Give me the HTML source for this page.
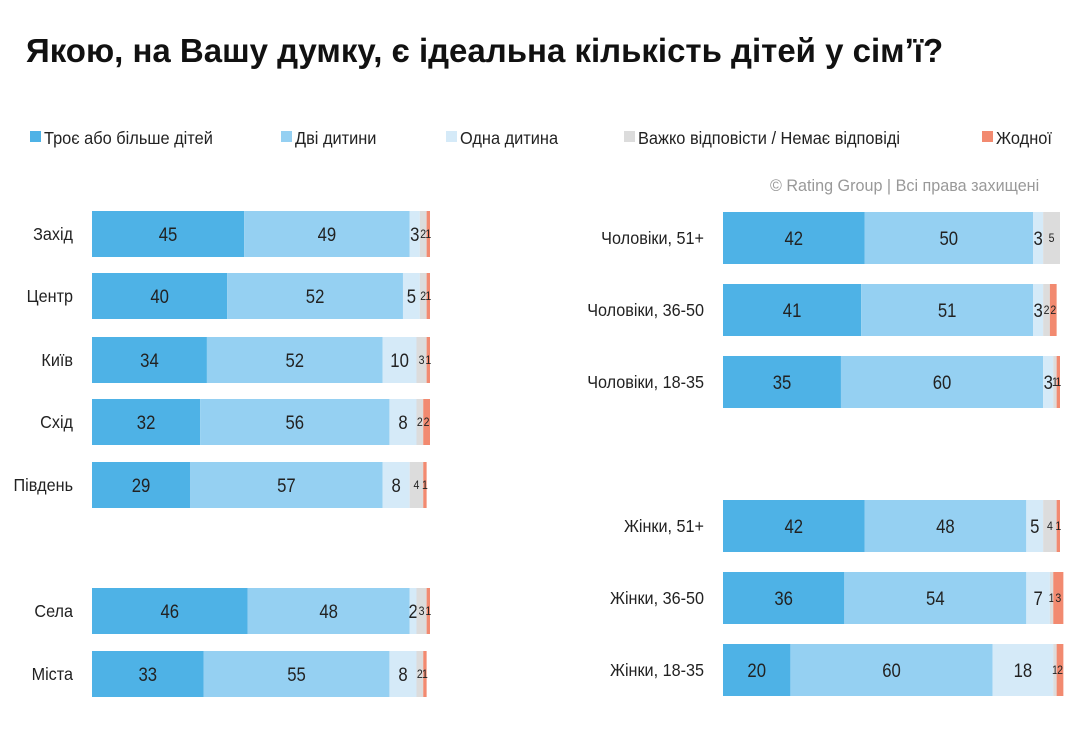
<!DOCTYPE html>
<html><head><meta charset="utf-8"><style>
body{margin:0;background:#fff;width:1080px;height:748px;overflow:hidden;font-family:"Liberation Sans","DejaVu Sans",sans-serif;}
#root{position:relative;width:1080px;height:748px;}
.t{position:absolute;white-space:nowrap;}
</style></head><body>
<div id="root">
<div class="t" style="left:26px;top:32px;font-size:33px;font-weight:bold;color:#111;">Якою, на Вашу думку, є ідеальна кількість дітей у сімʼї?</div>
<div class="t" style="left:770px;top:176px;font-size:17px;color:#999;transform:scaleX(0.95);transform-origin:left;">© Rating Group | Всі права захищені</div>
<svg id="svg" width="1080" height="748" style="position:absolute;left:0;top:0"></svg>
</div>
<script>
const seriesNames=["Троє або більше дітей","Дві дитини","Одна дитина","Важко відповісти / Немає відповіді","Жодної"];
const colors=["#4eb2e6","#95d0f2","#d5eaf8","#dcdcdc","#f28a70"];
const leftCats=["Захід","Центр","Київ","Схід","Південь","Села","Міста"];
const leftThree=[45,40,34,32,29,46,33];
const leftTwo=[49,52,52,56,57,48,55];
const leftOne=[3,5,10,8,8,2,8];
const leftDk=[2,2,3,2,4,3,2];
const leftNone=[1,1,1,2,1,1,1];
const rightCats=["Чоловіки, 51+","Чоловіки, 36-50","Чоловіки, 18-35","Жінки, 51+","Жінки, 36-50","Жінки, 18-35"];
const rightThree=[42,41,35,42,36,20];
const rightTwo=[50,51,60,48,54,60];
const rightOne=[3,3,3,5,7,18];
const rightDk=[5,2,1,4,1,1];
const rightNone=[0,2,1,1,3,2];

const NS="http://www.w3.org/2000/svg";
const svg=document.getElementById('svg');
function mk(tag,attrs){const e=document.createElementNS(NS,tag);for(const k in attrs)e.setAttribute(k,attrs[k]);svg.appendChild(e);return e;}
function txt(x,y,size,anchor,str,sx){
  const t=mk('text',{x:0,y:0,'font-size':size,fill:'#222','text-anchor':anchor,transform:'translate('+x+','+y+') scale('+sx+',1)'});
  t.textContent=str;return t;
}

const legX=[30,281,446,624,982];
seriesNames.forEach((n,i)=>{
  const r=mk('rect',{x:legX[i],y:131,width:11,height:11,fill:colors[i]});
  
  
  const t=txt(legX[i]+14,144,18,'start',n,0.91);
  
  
});

function drawChart(cats,vals,x0,scale,tops,h,labelRight){
  cats.forEach((c,ci)=>{
    const y=tops[ci];
    const lab=txt(labelRight,y+h/2+6,18,'end',c,0.9);
    
    
    let x=x0;
    vals.forEach((arr,si)=>{
      const v=arr[ci];const w=v*scale;
      if(v>0){
        const r=mk('rect',{x:x,y:y,width:w,height:h,fill:colors[si]});
        
        
        const small=si>=3;
        const t=txt(x+w/2,y+h/2+(small?4:7),small?12:19,'middle',String(v),0.88);
        
        
      }
      x+=w;
    });
  });
}
drawChart(leftCats,[leftThree,leftTwo,leftOne,leftDk,leftNone],92,3.38,[211,273,337,399,462,588,651],46,73);
drawChart(rightCats,[rightThree,rightTwo,rightOne,rightDk,rightNone],723,3.37,[212,284,356,500,572,644],52,704);
</script>
</body></html>
